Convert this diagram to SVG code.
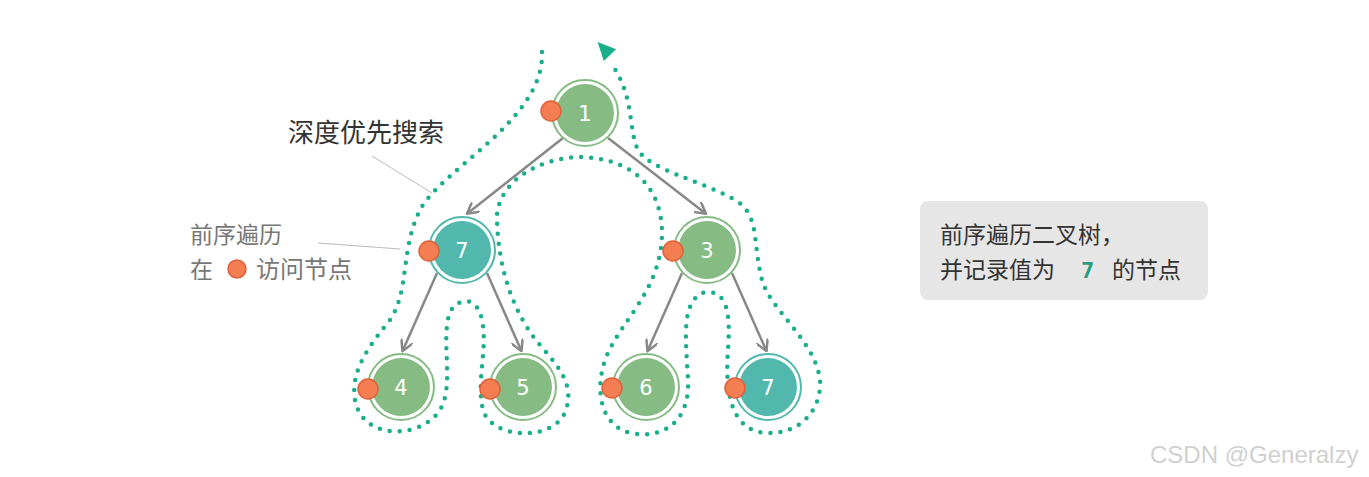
<svg xmlns="http://www.w3.org/2000/svg" width="1369" height="477" viewBox="0 0 1369 477">
<style>
.ring{fill:none;stroke-width:2}
.g .ring{stroke:#86bc84}.t .ring{stroke:#52b8ad}
.g .core{fill:#86bc84}.t .core{fill:#52b8ad}
.num{font-family:"DejaVu Sans",sans-serif;font-size:21px;fill:#fff;text-anchor:middle}
.dot{fill:#f47e52;stroke:#e0603a;stroke-width:1.5}
.edge{stroke:#888;stroke-width:2.5;fill:none;marker-end:url(#ah)}
.cn{font-family:"Noto Sans CJK SC",sans-serif}
</style>
<defs>
<marker id="ah" viewBox="0 0 10 10" refX="8" refY="5" markerWidth="5" markerHeight="5" orient="auto"><path d="M0,0 L9,5 L0,10" fill="none" stroke="#888" stroke-width="2"/></marker>
</defs>
<rect width="1369" height="477" fill="#fff"/>
<g id="connectors">
<line class="edge" x1="563" y1="138" x2="468" y2="213"/>
<line class="edge" x1="608" y1="138" x2="705" y2="213"/>
<line class="edge" x1="437" y1="273" x2="403" y2="350"/>
<line class="edge" x1="487" y1="273" x2="521" y2="350"/>
<line class="edge" x1="682" y1="273" x2="648" y2="350"/>
<line class="edge" x1="732" y1="273" x2="766" y2="350"/>
<path d="M542,52 C545,120 440,170 420,210 C400,250 410,290 390,320 C370,345 350,370 355,400 C362,440 420,440 440,410 C455,385 440,340 450,312 C460,295 478,298 482,320 C488,350 476,380 483,410 C492,440 555,442 566,410 C574,385 560,368 540,345 C510,310 497,260 497,215 C500,180 540,158 580,157 C625,158 660,180 662,230 C663,290 620,320 605,360 C595,390 600,425 630,433 C665,440 690,420 688,380 C686,340 680,300 705,292 C730,290 730,320 728,350 C725,390 730,430 765,433 C800,435 822,410 820,380 C815,340 770,310 762,280 C752,240 760,215 735,200 C700,180 650,170 638,150 C628,130 635,95 610,62" fill="none" stroke="#1aae8a" stroke-width="4.5" stroke-linecap="round" stroke-dasharray="0 10"/>
<path d="M600,40 L616,52 L601,60 Z" fill="#1aae8a" transform="rotate(-15 606 50)"/>
<line x1="372" y1="156" x2="432" y2="193" stroke="#bbb" stroke-width="1"/>
<line x1="318" y1="243" x2="400" y2="249" stroke="#bbb" stroke-width="1"/>
</g>
<g id="n1" class="g"><circle class="ring" cx="585" cy="113" r="33"/><circle class="core" cx="585" cy="113" r="29"/><text class="num" x="585" y="121">1</text><circle class="dot" cx="551" cy="111" r="10"/></g>
<g id="n7a" class="t"><circle class="ring" cx="462" cy="250" r="33"/><circle class="core" cx="462" cy="250" r="29"/><text class="num" x="462" y="258">7</text><circle class="dot" cx="429" cy="251" r="10"/></g>
<g id="n3" class="g"><circle class="ring" cx="707" cy="250" r="33"/><circle class="core" cx="707" cy="250" r="29"/><text class="num" x="707" y="258">3</text><circle class="dot" cx="673" cy="251" r="10"/></g>
<g id="n4" class="g"><circle class="ring" cx="401" cy="387" r="33"/><circle class="core" cx="401" cy="387" r="29"/><text class="num" x="401" y="395">4</text><circle class="dot" cx="368" cy="389" r="10"/></g>
<g id="n5" class="g"><circle class="ring" cx="523" cy="387" r="33"/><circle class="core" cx="523" cy="387" r="29"/><text class="num" x="523" y="395">5</text><circle class="dot" cx="490" cy="389" r="10"/></g>
<g id="n6" class="g"><circle class="ring" cx="646" cy="387" r="33"/><circle class="core" cx="646" cy="387" r="29"/><text class="num" x="646" y="395">6</text><circle class="dot" cx="612" cy="388" r="10"/></g>
<g id="n7b" class="t"><circle class="ring" cx="768" cy="387" r="33"/><circle class="core" cx="768" cy="387" r="29"/><text class="num" x="768" y="395">7</text><circle class="dot" cx="735" cy="388" r="10"/></g>
<g id="labels">
<text class="cn" x="288" y="142" font-size="26" fill="#333">深度优先搜索</text>
<text class="cn" x="190" y="243" font-size="23" fill="#777">前序遍历</text>
<text class="cn" x="190" y="278" font-size="23" fill="#777">在</text>
<circle class="dot" cx="237" cy="269" r="9"/>
<text class="cn" x="256" y="278" font-size="24" fill="#777">访问节点</text>
</g>
<g id="note">
<rect x="920" y="201" width="288" height="99" rx="8" fill="#e6e6e6"/>
<text class="cn" x="940" y="243" font-size="23" fill="#333">前序遍历二叉树，</text>
<text class="cn" x="940" y="278" font-size="23" fill="#333">并记录值为</text>
<text x="1081" y="278" font-family="DejaVu Sans Mono,monospace" font-size="22" font-weight="bold" fill="#2a9d80">7</text>
<text class="cn" x="1112" y="278" font-size="23" fill="#333">的节点</text>
</g>
<text x="1150" y="463" font-family="Liberation Sans,sans-serif" font-size="24" fill="#d0d0d0">CSDN @Generalzy</text>
</svg>
